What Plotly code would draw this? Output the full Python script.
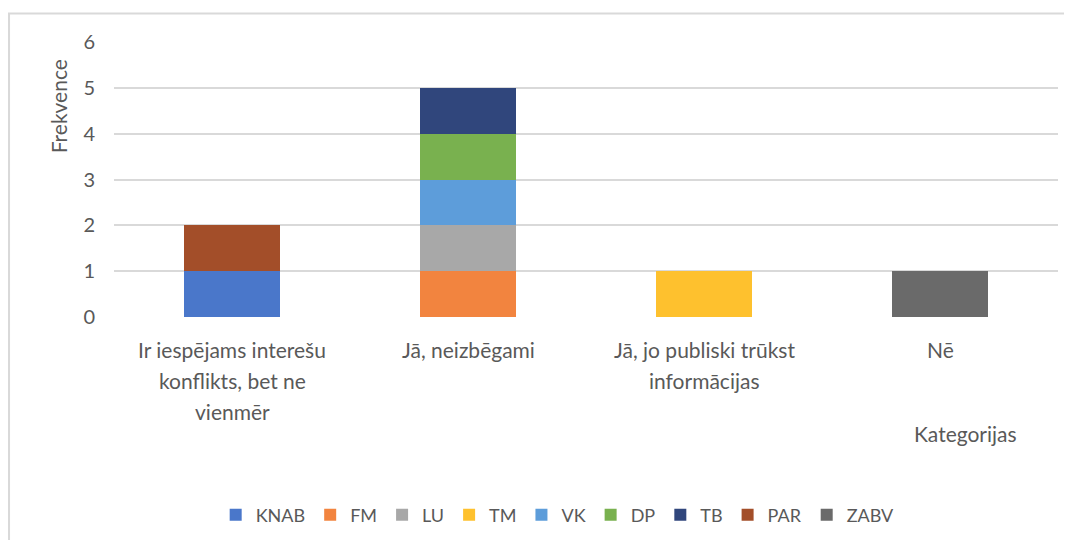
import plotly.graph_objects as go

categories = [
    "Ir iespējams interešu konflikts, bet ne vienmēr",
    "Jā, neizbēgami",
    "Jā, jo publiski trūkst informācijas",
    "Nē",
]
category_lines = [
    ["Ir iespējams interešu", "konflikts, bet ne", "vienmēr"],
    ["Jā, neizbēgami"],
    ["Jā, jo publiski trūkst", "informācijas"],
    ["Nē"],
]
series_names = ["KNAB", "FM", "LU", "TM", "VK", "DP", "TB", "PAR", "ZABV"]
knab = [1, 0, 0, 0]
fm = [0, 1, 0, 0]
lu = [0, 1, 0, 0]
tm = [0, 0, 1, 0]
vk = [0, 1, 0, 0]
dp = [0, 1, 0, 0]
tb = [0, 1, 0, 0]
par = [1, 0, 0, 0]
zabv = [0, 0, 0, 1]
series_values = [knab, fm, lu, tm, vk, dp, tb, par, zabv]
colors = ["#4a77ca", "#f2843f", "#a8a8a8", "#fec12e", "#5d9dda",
          "#79b14f", "#30467c", "#a34e29", "#6a6a6a"]
y_ticks = [0, 1, 2, 3, 4, 5, 6]

FONT = "Lato"
TXT = "#595959"

fig = go.Figure()
for name, vals, col in zip(series_names, series_values, colors):
    fig.add_trace(go.Bar(
        x=categories, y=vals, name=name,
        marker=dict(color=col, line=dict(width=0)),
    ))

annotations = []
for cat, lines in zip(categories, category_lines):
    for i, line in enumerate(lines):
        annotations.append(dict(
            x=cat, xref="x", y=-0.1187, yref="paper",
            text=line, showarrow=False, yshift=-31 * i,
            xanchor="center", yanchor="middle",
            font=dict(family=FONT, size=21, color=TXT),
        ))
annotations.append(dict(
    x=-0.0593, xref="paper", y=0.766, yref="paper", text="Frekvence",
    textangle=-90, showarrow=False, xanchor="center", yanchor="middle",
    font=dict(family=FONT, size=21, color=TXT),
))
annotations.append(dict(
    x=0.9015, xref="paper", y=-0.4245, yref="paper", text="Kategorijas",
    showarrow=False, xanchor="center", yanchor="middle",
    font=dict(family=FONT, size=21, color=TXT),
))

fig.update_layout(
    width=1056, height=532,
    margin=dict(l=106, r=6, t=34, b=220),
    paper_bgcolor="white", plot_bgcolor="white",
    barmode="stack", bargap=0.59,
    font=dict(family=FONT, size=19, color=TXT),
    showlegend=True,
    legend=dict(
        orientation="h", x=0.47, xanchor="center", y=-0.72, yanchor="middle",
        font=dict(family=FONT, size=18, color=TXT),
        itemwidth=30, traceorder="normal",
    ),
    annotations=annotations,
    shapes=[dict(
        type="rect", xref="paper", yref="paper",
        x0=-0.1112, x1=1.2, y0=-2.0, y1=1.104,
        line=dict(color="#d9d9d9", width=2), fillcolor="rgba(0,0,0,0)",
        layer="below",
    )],
)
fig.update_xaxes(showticklabels=False, showgrid=False, zeroline=False,
                 showline=False, ticks="")
fig.update_yaxes(range=[0, 6], tickvals=y_ticks, showgrid=True,
                 gridcolor="#d9d9d9", gridwidth=2, zeroline=False,
                 showline=False, ticks="", ticklabelstandoff=18,
                 tickfont=dict(family=FONT, size=20, color=TXT))

fig.write_html("out.html")
